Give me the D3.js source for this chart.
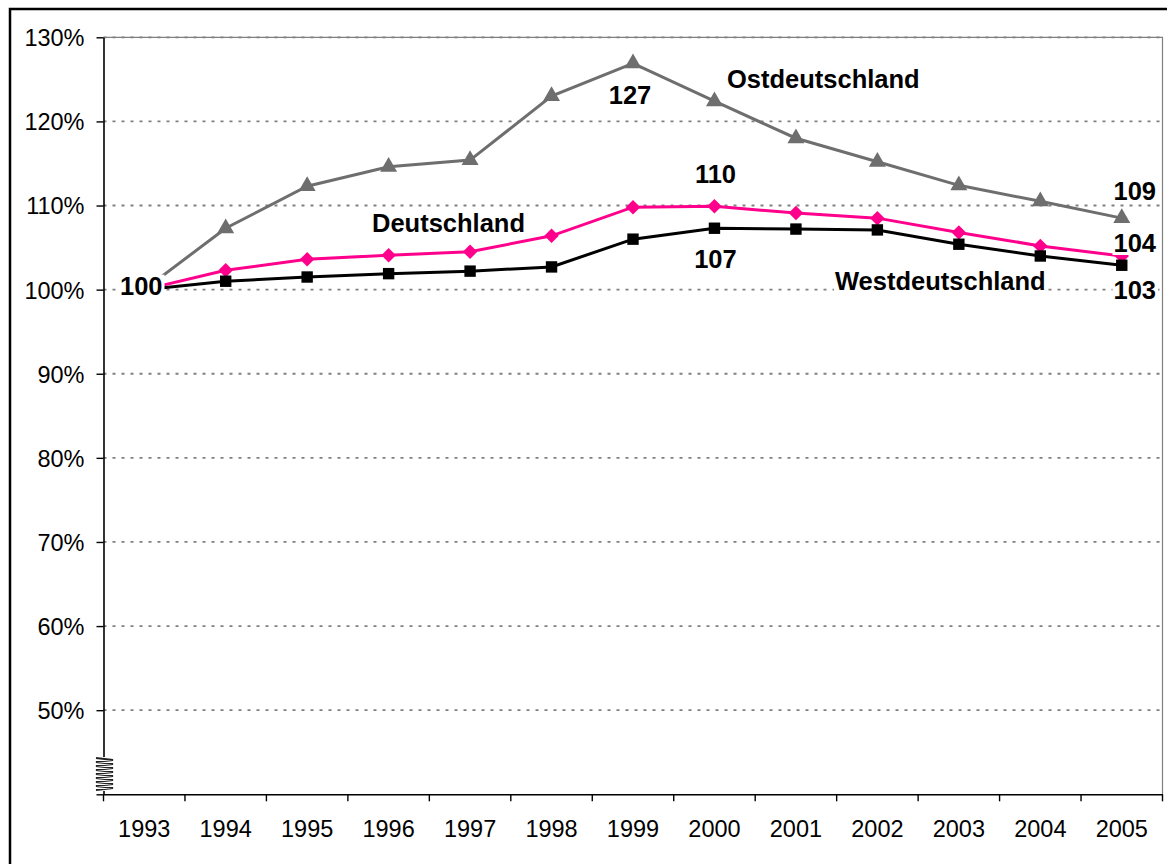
<!DOCTYPE html>
<html>
<head>
<meta charset="utf-8">
<script src="https://cdn.jsdelivr.net/npm/d3@7"></script>
<style>
  html, body { margin: 0; padding: 0; background: #fff; }
  svg text { font-family: Arial, "Liberation Sans", sans-serif; }
</style>
</head>
<body>
<div id="chart"></div>
<script>
// data (index, 1993 = 100)
const years = ['1993','1994','1995','1996','1997','1998','1999','2000','2001','2002','2003','2004','2005'];
const ost = [100, 107.3, 112.3, 114.6, 115.4, 123.0, 126.9, 122.4, 118.0, 115.2, 112.4, 110.5, 108.5];
const deutschland = [100, 102.3, 103.6, 104.1, 104.5, 106.4, 109.8, 109.9, 109.1, 108.5, 106.8, 105.2, 104.0];
const west = [100, 101.0, 101.5, 101.9, 102.2, 102.7, 106.0, 107.3, 107.2, 107.1, 105.4, 104.0, 102.9];
const yTicks = [40, 50, 60, 70, 80, 90, 100, 110, 120, 130];

const W = 1167, H = 864;
const margin = { top: 37.3, left: 103.5, right: 4.5, bottom: 69.7 };

const svg = d3.select('#chart').append('svg')
  .attr('width', W)
  .attr('height', H);

// outer frame
svg.append('rect')
  .attr('x', 10).attr('y', 9)
  .attr('width', W + 20).attr('height', H + 20)
  .attr('fill', 'none')
  .attr('stroke', '#000')
  .attr('stroke-width', 2.5);

const x = d3.scaleBand()
  .domain(years)
  .range([margin.left, W - margin.right]);
const y = d3.scaleLinear()
  .domain([40, 130])
  .range([H - margin.bottom, margin.top]);
const cx = d => x(d) + x.bandwidth() / 2;

// plot border (top + right)
svg.append('path')
  .attr('d', `M${x.range()[0]},${y(130)}H${x.range()[1]}V${y(40)}`)
  .attr('fill', 'none')
  .attr('stroke', '#808080')
  .attr('stroke-width', 1.2);

// gridlines
svg.append('g')
  .selectAll('line')
  .data(yTicks.filter(t => t > 40))
  .join('line')
  .attr('x1', x.range()[0]).attr('x2', x.range()[1])
  .attr('y1', d => y(d)).attr('y2', d => y(d))
  .attr('stroke', '#808080')
  .attr('stroke-width', 1.8)
  .attr('stroke-dasharray', '3,6');

// y axis
const yAxis = svg.append('g')
  .attr('transform', `translate(${margin.left},0)`)
  .call(d3.axisLeft(y).tickValues(yTicks).tickSize(7).tickSizeOuter(0).tickPadding(12)
    .tickFormat(d => d === 40 ? '' : d + '%'));
yAxis.select('.domain').attr('stroke', '#000').attr('stroke-width', 1.6);
yAxis.selectAll('.tick line').attr('stroke', '#000').attr('stroke-width', 1.4);
yAxis.selectAll('.tick text')
  .attr('font-size', '23.5px')
  .attr('fill', '#000')
  .attr('dy', '0.36em');

// x axis: labels at centres, ticks at band edges
const xAxis = svg.append('g')
  .attr('transform', `translate(0,${y(40)})`)
  .call(d3.axisBottom(x).tickSize(0).tickPadding(43));
xAxis.select('.domain').attr('stroke', '#000').attr('stroke-width', 1.6);
xAxis.selectAll('.tick text')
  .attr('font-size', '23.5px')
  .attr('fill', '#000')
  .attr('dy', '0');

const edges = years.map(d => x(d)).concat([x.range()[1]]);
svg.append('g')
  .selectAll('line')
  .data(edges)
  .join('line')
  .attr('x1', d => d).attr('x2', d => d)
  .attr('y1', y(40)).attr('y2', y(40) + 7)
  .attr('stroke', '#000')
  .attr('stroke-width', 1.4);

// axis break
const brk = svg.append('g');
brk.append('rect')
  .attr('x', 95).attr('y', 757)
  .attr('width', 19).attr('height', 34)
  .attr('fill', '#fff');
let zz = 'M96,758';
for (let i = 0; i < 8; i++) {
  zz += `L113,${760 + i * 4}L96,${762 + i * 4}`;
}
brk.append('path')
  .attr('d', zz)
  .attr('fill', 'none')
  .attr('stroke', '#222')
  .attr('stroke-width', 2.2);

// series
const series = [
  { name: 'Ostdeutschland', values: ost, color: '#6e6e6e', marker: d3.symbolTriangle, size: 125, rot: 0 },
  { name: 'Deutschland', values: deutschland, color: '#ff008c', marker: d3.symbolSquare, size: 105, rot: 45 },
  { name: 'Westdeutschland', values: west, color: '#000000', marker: d3.symbolSquare, size: 130, rot: 0 }
];

const line = d3.line()
  .x((d, i) => cx(years[i]))
  .y(d => y(d));

series.forEach(s => {
  svg.append('path')
    .datum(s.values)
    .attr('d', line)
    .attr('fill', 'none')
    .attr('stroke', s.color)
    .attr('stroke-width', 3);
  svg.append('g')
    .selectAll('path')
    .data(s.values)
    .join('path')
    .attr('d', d3.symbol().type(s.marker).size(s.size))
    .attr('transform', (d, i) => `translate(${cx(years[i])},${y(d)}) rotate(${s.rot})`)
    .attr('fill', s.color);
});

// labels
const labels = svg.append('g')
  .attr('font-weight', 'bold')
  .attr('font-size', '25.5px')
  .attr('fill', '#000');

function label(txt, px, py, anchor, bg) {
  const t = labels.append('text')
    .attr('x', px).attr('y', py)
    .attr('text-anchor', anchor)
    .text(txt);
  if (bg) {
    const b = t.node().getBBox();
    labels.insert('rect', () => t.node())
      .attr('x', b.x - 1).attr('y', b.y + 3)
      .attr('width', b.width + 3).attr('height', b.height - 5)
      .attr('fill', '#fff');
  }
}

const last = years.length - 1;
const i99 = years.indexOf('1999'), i00 = years.indexOf('2000');
label(Math.round(deutschland[0]), cx(years[0]) - 3, y(deutschland[0]) + 5, 'middle', true);
label(Math.round(ost[i99]), cx(years[i99]) - 3, y(ost[i99]) + 41, 'middle', false);
label(Math.round(deutschland[i00]), cx(years[i00]) + 1, y(deutschland[i00]) - 23, 'middle', false);
label(Math.round(west[i00]), cx(years[i00]) + 1, y(west[i00]) + 40, 'middle', false);
label(Math.round(ost[last]), cx(years[last]) + 13, y(ost[last]) - 18, 'middle', false);
label(Math.round(deutschland[last]), cx(years[last]) + 13, y(deutschland[last]) - 4, 'middle', true);
label(Math.round(west[last]), cx(years[last]) + 13, y(west[last]) + 34, 'middle', true);

label('Ostdeutschland', 727, 88, 'start', false);
label('Deutschland', 372, 232, 'start', false);
label('Westdeutschland', 835, 290, 'start', true);
</script>
</body>
</html>
